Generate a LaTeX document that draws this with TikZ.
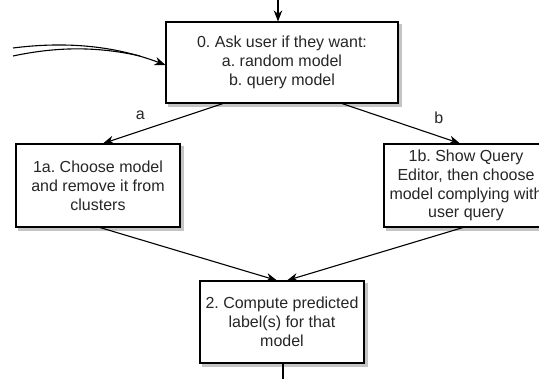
\documentclass[tikz,border=0pt]{standalone}
\usepackage{fontspec}
\setmainfont{Liberation Sans}
\usetikzlibrary{arrows.meta}
\definecolor{inkgray}{HTML}{262626}
\definecolor{shade}{HTML}{C4C4C4}
\pgfdeclarelayer{under}
\pgfsetlayers{under,main}
\frenchspacing
\tikzset{
  stepbox/.style={draw=black, line width=1.1pt, fill=white, align=center,
    inner sep=2pt, text=inkgray,
    font=\fontsize{16pt}{18.8pt}\selectfont},
  flow/.style={draw=black, line width=1.1pt,
    -{Stealth[length=11pt,width=8.5pt,inset=3.5pt]}},
  plain/.style={draw=black, line width=1.1pt},
  branch/.style={text=inkgray, font=\fontsize{16pt}{18pt}\selectfont},
  boxshade/.style={fill=shade}
}
\newcommand\castshade[1]{%
  \path[boxshade] ([xshift=3pt,yshift=-3pt]#1.south west) rectangle ([xshift=3pt,yshift=-3pt]#1.north east);}
\begin{document}
\begin{tikzpicture}[x=1pt,y=-1pt]
  \useasboundingbox (0,0) rectangle (539,379);
  \clip (0,0) rectangle (539,379);

  % process boxes
  \node[stepbox, minimum width=232pt, minimum height=81pt] (ask) at (282,62.5)
    {0. Ask user if they want:\\a. random model\\b. query model};
  \node[stepbox, minimum width=164pt, minimum height=83pt] (choose) at (98,185.5)
    {1a. Choose model\\and remove it from\\clusters};
  \node[stepbox, minimum width=164pt, minimum height=83pt] (query) at (466,185.5)
    {1b. Show Query\\Editor, then choose\\model complying with\\user query};
  \node[stepbox, minimum width=164pt, minimum height=82pt] (predict) at (282,322)
    {2. Compute predicted\\label(s) for that\\model};

  % page ground and box shadows
  \begin{pgfonlayer}{under}
    \fill[white] (0,0) rectangle (539,379);
    \castshade{ask}
    \castshade{choose}
    \castshade{query}
    \castshade{predict}
  \end{pgfonlayer}

  % loose ends entering and leaving the flow
  \coordinate (entry) at (278,-2);
  \coordinate (exit) at (283,381);
  \coordinate (loopa) at (13,48);
  \coordinate (loopb) at (13,56);

  \draw[flow] (entry) -- (ask.north -| entry);
  \draw[plain] (predict.south -| exit) -- (exit);

  % returning loop drawn as a doubled stroke
  \draw[flow] (loopa) .. controls (60,42) and (110,44) .. ([yshift=-2.5pt]ask.west);
  \draw[plain] (loopb) .. controls (60,46) and (100,47) .. (140,56);

  % branches
  \draw[flow] ([xshift=-59pt]ask.south) -- node[branch, pos=0.69, yshift=16pt] {a} ([xshift=5pt]choose.north);
  \draw[flow] ([xshift=60pt]ask.south) -- node[branch, pos=0.82, yshift=18pt] {b} ([xshift=-6pt]query.north);

  % merge
  \draw[flow] ([xshift=2pt]choose.south) -- ([xshift=-5pt]predict.north);
  \draw[flow] ([xshift=-3pt]query.south) -- ([xshift=5pt]predict.north);
\end{tikzpicture}
\end{document}
